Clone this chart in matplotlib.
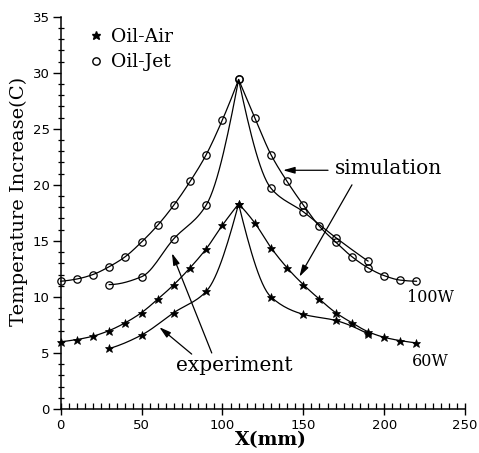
import numpy as np
import matplotlib
matplotlib.use("Agg")
import matplotlib.pyplot as plt
import matplotlib.ticker as ticker
from matplotlib.lines import Line2D

# ── data ─────────────────────────────────────────────────────────────────────
sim_x = [0, 10, 20, 30, 40, 50, 60, 70, 80, 90, 100, 110,
         120, 130, 140, 150, 160, 170, 180, 190, 200, 210, 220]
jet_sim = [11.4, 11.6, 12.0, 12.7, 13.6, 14.9, 16.4, 18.2, 20.3, 22.7, 25.8, 29.4,
           26.0, 22.7, 20.3, 18.2, 16.3, 14.9, 13.6, 12.6, 11.9, 11.5, 11.4]
air_sim = [6.0, 6.2, 6.5, 7.0, 7.7, 8.6, 9.8, 11.1, 12.6, 14.3, 16.4, 18.3,
           16.6, 14.4, 12.6, 11.1, 9.8, 8.6, 7.7, 6.9, 6.4, 6.1, 5.9]

exp_x = [30, 50, 70, 90, 110, 130, 150, 170, 190]
jet_exp = [11.1, 11.8, 15.2, 18.2, 29.4, 19.7, 17.6, 15.3, 13.2]
air_exp = [5.4, 6.6, 8.6, 10.5, 18.3, 10.0, 8.45, 7.9, 6.7]

SERIF = "DejaVu Serif"
SANS = "DejaVu Sans"
INK = "black"


def _slopes(x, y):
    """monotone (Fritsch–Carlson) slopes for a Hermite curve through the points"""
    h = np.diff(x)
    d = np.diff(y) / h
    m = np.zeros_like(y)
    for k in range(1, len(y) - 1):
        if d[k - 1] * d[k] > 0:
            w1 = 2 * h[k] + h[k - 1]
            w2 = h[k] + 2 * h[k - 1]
            m[k] = (w1 + w2) / (w1 / d[k - 1] + w2 / d[k])
    for i, (h0, h1, d0, d1) in ((0, (h[0], h[1], d[0], d[1])),
                                (-1, (h[-1], h[-2], d[-1], d[-2]))):
        e = ((2 * h0 + h1) * d0 - h0 * d1) / (h0 + h1)
        if np.sign(e) != np.sign(d0):
            e = 0.0
        elif np.sign(d0) != np.sign(d1) and abs(e) > 3 * abs(d0):
            e = 3 * d0
        m[i] = e
    return m


def smooth_line(x, y, n=16):
    """smooth drawing path through the data, kept sharp at the peak"""
    x = np.asarray(x, float)
    y = np.asarray(y, float)
    p = int(np.argmax(y))
    xs, ys = [], []
    for sl in (slice(0, p + 1), slice(p, None)):
        xx, yy = x[sl], y[sl]
        m = _slopes(xx, yy)
        for k in range(len(xx) - 1):
            h = xx[k + 1] - xx[k]
            t = np.linspace(0, 1, n)
            h00 = 2 * t**3 - 3 * t**2 + 1
            h10 = t**3 - 2 * t**2 + t
            h01 = -2 * t**3 + 3 * t**2
            h11 = t**3 - t**2
            xs.append(xx[k] + t * h)
            ys.append(h00 * yy[k] + h10 * h * m[k] + h01 * yy[k + 1] + h11 * h * m[k + 1])
    return np.concatenate(xs), np.concatenate(ys)


fig = plt.figure(figsize=(4.79, 4.53), dpi=100)
fig.patch.set_facecolor("white")
ax = fig.add_axes([0.1267, 0.0971, 0.8441, 0.866])

# ── curves ───────────────────────────────────────────────────────────────────
for xs, ys, mk in [(sim_x, jet_sim, "o"), (exp_x, jet_exp, "o"),
                   (sim_x, air_sim, "*"), (exp_x, air_exp, "*")]:
    lx, ly = smooth_line(xs, ys)
    ax.plot(lx, ly, color=INK, lw=0.9, clip_on=False, zorder=2)
    if mk == "o":
        ax.plot(xs, ys, ls="none", marker="o", ms=5.3, mfc="none", mec=INK,
                mew=0.9, clip_on=False, zorder=3)
    else:
        ax.plot(xs, ys, ls="none", marker="*", ms=6.3, mfc=INK, mec=INK,
                mew=0.5, clip_on=False, zorder=3)

# ── axes ─────────────────────────────────────────────────────────────────────
ax.set_xlim(0, 250)
ax.set_ylim(0, 35)
ax.xaxis.set_major_locator(ticker.MultipleLocator(50))
ax.xaxis.set_minor_locator(ticker.MultipleLocator(5))
ax.yaxis.set_major_locator(ticker.MultipleLocator(5))
ax.yaxis.set_minor_locator(ticker.MultipleLocator(1))
ax.spines[["top", "right"]].set_visible(False)
ax.spines[["left", "bottom"]].set_linewidth(1.1)
ax.tick_params(axis="x", which="major", direction="inout", length=8, width=1.0,
               labelsize=9.5, pad=3)
ax.tick_params(axis="x", which="minor", direction="in", length=4.5, width=0.9)
ax.tick_params(axis="y", which="major", direction="out", length=6, width=1.0,
               labelsize=9.5, pad=2)
ax.tick_params(axis="y", which="minor", direction="inout", length=4, width=0.9)
for lab in ax.get_xticklabels() + ax.get_yticklabels():
    lab.set_family(SANS)

fig.text(0.566, 0.029, "X(mm)", family=SERIF, fontweight="bold", fontsize=13.5,
         ha="center", va="center")
fig.text(0.040, 0.555, "Temperature Increase(C)", family=SERIF, fontsize=14,
         rotation=90, ha="center", va="center")

# ── legend ───────────────────────────────────────────────────────────────────
handles = [
    Line2D([], [], ls="none", marker="*", ms=6.3, mfc=INK, mec=INK, label="Oil-Air"),
    Line2D([], [], ls="none", marker="o", ms=5.3, mfc="none", mec=INK, label="Oil-Jet"),
]
ax.legend(handles=handles, loc="upper left", bbox_to_anchor=(0.028, 1.015),
          frameon=False, handlelength=0.8, handletextpad=0.4, labelspacing=0.4,
          prop=dict(family=SERIF, size=13.5))

# ── annotations ──────────────────────────────────────────────────────────────
arrow = dict(arrowstyle="-|>,head_length=0.7,head_width=0.2", color=INK, lw=0.9,
             shrinkA=0, shrinkB=0)
ax.text(169.6, 21.5, "simulation", family=SERIF, fontsize=14.5, va="center")
ax.annotate("", xy=(137.5, 21.3), xytext=(165.3, 21.3), arrowprops=arrow)
ax.annotate("", xy=(147.6, 11.8), xytext=(180.1, 20.0), arrowprops=arrow)

ax.text(71.1, 3.84, "experiment", family=SERIF, fontsize=14.5, va="center")
ax.annotate("", xy=(61.0, 7.3), xytext=(81.0, 4.9), arrowprops=arrow)
ax.annotate("", xy=(68.8, 13.9), xytext=(93.4, 5.0), arrowprops=arrow)

ax.text(214.0, 9.96, "100W", family=SERIF, fontsize=11.5, va="center")
ax.text(217.3, 4.2, "60W", family=SERIF, fontsize=11.5, va="center")

fig.savefig("out.png", dpi=100)
plt.close(fig)
